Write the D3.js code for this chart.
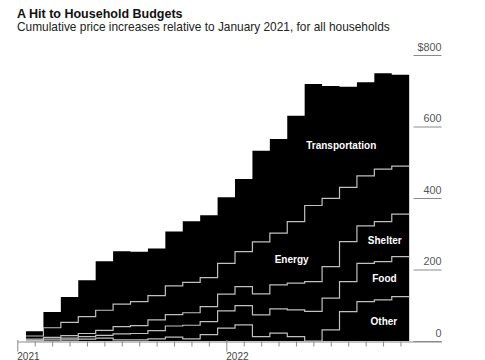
<!DOCTYPE html>
<html>
<head>
<meta charset="utf-8">
<script src="https://cdn.jsdelivr.net/npm/d3@7"></script>
<style>
  html, body { margin: 0; padding: 0; background: #fff; }
  svg { display: block; font-family: "Liberation Sans", Arial, sans-serif; }
</style>
</head>
<body>
<svg id="chart" width="485" height="360"></svg>
<script>
// ---- data (Feb 2021 .. Nov 2022), cumulative $ relative to Jan 2021 ----
const months = ["2021-02","2021-03","2021-04","2021-05","2021-06","2021-07","2021-08","2021-09","2021-10","2021-11","2021-12",
                "2022-01","2022-02","2022-03","2022-04","2022-05","2022-06","2022-07","2022-08","2022-09","2022-10","2022-11"];
const other          = [0, 0, 3, 5, 8, 3, 3, 6, 11, 6, 18, 36, 45, 12, 22, 12, 0, 31, 82, 110, 115, 124];
const food           = [2, 5, 5, 7, 8, 17, 18, 23, 31, 38, 36, 48, 54, 61, 68, 75, 83, 89, 84, 107, 107, 112];
const shelter        = [3, 5, 7, 9, 14, 20, 22, 30, 32, 35, 42, 47, 53, 59, 67, 75, 83, 88, 112, 105, 112, 119];
const energy         = [9, 27, 37, 47, 56, 63, 67, 68, 80, 85, 81, 86, 98, 145, 145, 172, 213, 191, 152, 140, 147, 134];
const transportation = [13, 44, 71, 102, 137, 148, 140, 132, 152, 171, 175, 185, 203, 255, 263, 296, 340, 314, 281, 262, 268, 256];

const seriesNames = ["Other", "Food", "Shelter", "Energy", "Transportation"];
const yTickValues = [0, 200, 400, 600, 800];
const yTickLabels = ["0", "200", "400", "600", "$800"];
const xTickLabels = ["2021", "2022"];   // at month index 0 and 12
const title = "A Hit to Household Budgets";
const subtitle = "Cumulative price increases relative to January 2021, for all households";

// ---- build table ----
const seriesArrays = [other, food, shelter, energy, transportation];
const rows = months.map((m, i) => {
  const r = { month: i + 1 };           // month index (Jan 2021 = 0)
  seriesNames.forEach((k, j) => r[k] = seriesArrays[j][i]);
  return r;
});
const stacked = d3.stack().keys(seriesNames)(rows);

// ---- scales ----
const svg = d3.select("#chart");
const x = d3.scaleLinear().domain([0, 12]).range([17.3, 226.3]);
const y = d3.scaleLinear().domain([0, 800]).range([341, 55]);
const axisRight = 441.5;

// step points: each month spans [m-0.5, m+0.5]
function stepPts(layer) {
  const pts = layer.map(d => ({ m: d.data.month - 0.5, v: d[1] }));
  const last = layer[layer.length - 1];
  pts.push({ m: last.data.month + 0.5, v: last[1] });
  return pts;
}

// black total area
const topLayer = stacked[stacked.length - 1];
svg.append("path")
  .datum(stepPts(topLayer))
  .attr("fill", "#000")
  .attr("d", d3.area().curve(d3.curveStepAfter)
    .x(d => x(d.m)).y0(y(0)).y1(d => y(d.v)));

// boundary lines
const line = d3.line().curve(d3.curveStepAfter).x(d => x(d.m)).y(d => y(d.v));
stacked.slice(0, 4).forEach(layer => {
  svg.append("path")
    .datum(stepPts(layer))
    .attr("fill", "none")
    .attr("stroke", "#c0c0c0")
    .attr("stroke-width", 1.2)
    .attr("d", line);
});

// ---- x axis ----
const xAxisScale = x.copy().domain([0, x.invert(axisRight)]).range([x(0), axisRight]);
const gx = svg.append("g")
  .attr("transform", `translate(0,${y(0) + 0.5})`)
  .call(d3.axisBottom(xAxisScale).tickValues(d3.range(0, 23)).tickSize(5).tickSizeOuter(0).tickFormat(""));
gx.select(".domain").attr("stroke", "#8a8a8a");
gx.selectAll(".tick line").attr("stroke", "#8a8a8a")
  .attr("y1", d => (d % 12 === 0) ? -1.5 : 0)
  .attr("y2", d => (d % 12 === 0) ? 10 : 5);
xTickLabels.forEach((lab, i) => {
  svg.append("text")
    .attr("x", x(i * 12))
    .attr("y", 359.5)
    .attr("font-size", 10)
    .attr("fill", "#444")
    .text(lab);
});

// ---- y axis (right, labels above short rules) ----
const gy = svg.append("g")
  .attr("transform", `translate(${axisRight},0)`)
  .call(d3.axisLeft(y).tickValues(yTickValues).tickSize(28).tickFormat((d, i) => yTickLabels[i]));
gy.select(".domain").remove();
gy.selectAll(".tick line").attr("stroke", "#8a8a8a");
gy.selectAll(".tick text")
  .attr("x", 0).attr("dy", null).attr("y", -5)
  .attr("text-anchor", "end")
  .attr("font-size", 10.8)
  .attr("font-family", "'Liberation Sans', Arial, sans-serif")
  .attr("fill", "#555");

// ---- series labels (position in month index / data units) ----
const labelNames = ["Transportation", "Energy", "Shelter", "Food", "Other"];
const labelMonth = [18.6, 15.75, 21.1, 21.08, 21.05];
const labelValue = [548, 229, 280, 175, 54];
labelNames.forEach((name, i) => {
  svg.append("text")
    .attr("x", x(labelMonth[i]))
    .attr("y", y(labelValue[i]))
    .attr("dy", "0.35em")
    .attr("text-anchor", "middle")
    .attr("font-size", 10)
    .attr("font-weight", "bold")
    .attr("fill", "#fff")
    .text(name);
});

// ---- titles ----
svg.append("text").attr("x", 17).attr("y", 17.5)
  .attr("font-size", 12.5).attr("font-weight", "bold").attr("fill", "#111").text(title);
svg.append("text").attr("x", 17).attr("y", 30.5)
  .attr("font-size", 11.9).attr("fill", "#222").text(subtitle);
</script>
</body>
</html>
